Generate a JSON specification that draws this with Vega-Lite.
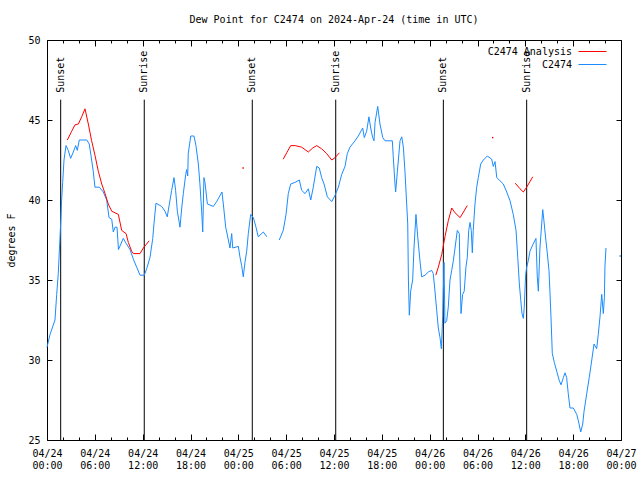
{
  "$schema": "https://vega.github.io/schema/vega-lite/v6.json",
  "width": 574,
  "height": 400,
  "autosize": {"type": "none"},
  "padding": {"left": 47, "top": 40, "right": 19, "bottom": 40},
  "background": "white",
  "title": {"text": "Dew Point for C2474 on 2024-Apr-24 (time in UTC)", "font": "DejaVu Sans Mono", "fontSize": 10, "fontWeight": "normal", "color": "black", "offset": 10, "anchor": "middle"},
  "config": {
    "view": {"stroke": "black", "strokeWidth": 1},
    "font": "DejaVu Sans Mono",
    "axis": {"labelFont": "DejaVu Sans Mono", "labelFontSize": 10, "labelColor": "black", "titleFont": "DejaVu Sans Mono", "titleFontSize": 10, "titleFontWeight": "normal", "titleColor": "black", "tickColor": "black", "tickWidth": 1, "domain": false, "grid": false}
  },
  "datasets": {
    "series": [
      {"t": "2024-04-24T00:00Z", "v": 30.8, "s": "C2474", "g": 1},
      {"t": "2024-04-24T00:23Z", "v": 31.6, "s": "C2474", "g": 1},
      {"t": "2024-04-24T01:00Z", "v": 32.5, "s": "C2474", "g": 1},
      {"t": "2024-04-24T01:13Z", "v": 34.1, "s": "C2474", "g": 1},
      {"t": "2024-04-24T01:25Z", "v": 35.4, "s": "C2474", "g": 1},
      {"t": "2024-04-24T01:38Z", "v": 37.7, "s": "C2474", "g": 1},
      {"t": "2024-04-24T01:45Z", "v": 38.9, "s": "C2474", "g": 1},
      {"t": "2024-04-24T01:50Z", "v": 40.0, "s": "C2474", "g": 1},
      {"t": "2024-04-24T01:58Z", "v": 41.1, "s": "C2474", "g": 1},
      {"t": "2024-04-24T02:08Z", "v": 42.5, "s": "C2474", "g": 1},
      {"t": "2024-04-24T02:23Z", "v": 43.4, "s": "C2474", "g": 1},
      {"t": "2024-04-24T02:40Z", "v": 43.1, "s": "C2474", "g": 1},
      {"t": "2024-04-24T02:58Z", "v": 42.6, "s": "C2474", "g": 1},
      {"t": "2024-04-24T03:18Z", "v": 43.0, "s": "C2474", "g": 1},
      {"t": "2024-04-24T03:36Z", "v": 43.4, "s": "C2474", "g": 1},
      {"t": "2024-04-24T03:48Z", "v": 43.1, "s": "C2474", "g": 1},
      {"t": "2024-04-24T04:03Z", "v": 43.75, "s": "C2474", "g": 1},
      {"t": "2024-04-24T04:59Z", "v": 43.75, "s": "C2474", "g": 1},
      {"t": "2024-04-24T05:18Z", "v": 43.5, "s": "C2474", "g": 1},
      {"t": "2024-04-24T05:36Z", "v": 42.5, "s": "C2474", "g": 1},
      {"t": "2024-04-24T05:48Z", "v": 41.8, "s": "C2474", "g": 1},
      {"t": "2024-04-24T06:01Z", "v": 40.8, "s": "C2474", "g": 1},
      {"t": "2024-04-24T06:34Z", "v": 40.8, "s": "C2474", "g": 1},
      {"t": "2024-04-24T07:04Z", "v": 40.5, "s": "C2474", "g": 1},
      {"t": "2024-04-24T07:29Z", "v": 40.0, "s": "C2474", "g": 1},
      {"t": "2024-04-24T07:47Z", "v": 38.9, "s": "C2474", "g": 1},
      {"t": "2024-04-24T08:07Z", "v": 38.8, "s": "C2474", "g": 1},
      {"t": "2024-04-24T08:19Z", "v": 38.0, "s": "C2474", "g": 1},
      {"t": "2024-04-24T08:32Z", "v": 38.3, "s": "C2474", "g": 1},
      {"t": "2024-04-24T08:47Z", "v": 38.3, "s": "C2474", "g": 1},
      {"t": "2024-04-24T08:58Z", "v": 36.9, "s": "C2474", "g": 1},
      {"t": "2024-04-24T09:34Z", "v": 37.6, "s": "C2474", "g": 1},
      {"t": "2024-04-24T09:55Z", "v": 37.3, "s": "C2474", "g": 1},
      {"t": "2024-04-24T10:25Z", "v": 36.9, "s": "C2474", "g": 1},
      {"t": "2024-04-24T10:50Z", "v": 36.3, "s": "C2474", "g": 1},
      {"t": "2024-04-24T11:15Z", "v": 35.8, "s": "C2474", "g": 1},
      {"t": "2024-04-24T11:40Z", "v": 35.3, "s": "C2474", "g": 1},
      {"t": "2024-04-24T12:12Z", "v": 35.3, "s": "C2474", "g": 1},
      {"t": "2024-04-24T12:30Z", "v": 35.7, "s": "C2474", "g": 1},
      {"t": "2024-04-24T12:55Z", "v": 36.4, "s": "C2474", "g": 1},
      {"t": "2024-04-24T13:16Z", "v": 37.6, "s": "C2474", "g": 1},
      {"t": "2024-04-24T13:25Z", "v": 38.5, "s": "C2474", "g": 1},
      {"t": "2024-04-24T13:40Z", "v": 39.8, "s": "C2474", "g": 1},
      {"t": "2024-04-24T14:23Z", "v": 39.6, "s": "C2474", "g": 1},
      {"t": "2024-04-24T14:48Z", "v": 39.3, "s": "C2474", "g": 1},
      {"t": "2024-04-24T15:05Z", "v": 38.95, "s": "C2474", "g": 1},
      {"t": "2024-04-24T15:26Z", "v": 40.0, "s": "C2474", "g": 1},
      {"t": "2024-04-24T15:38Z", "v": 40.6, "s": "C2474", "g": 1},
      {"t": "2024-04-24T15:56Z", "v": 41.4, "s": "C2474", "g": 1},
      {"t": "2024-04-24T16:08Z", "v": 40.6, "s": "C2474", "g": 1},
      {"t": "2024-04-24T16:21Z", "v": 39.3, "s": "C2474", "g": 1},
      {"t": "2024-04-24T16:41Z", "v": 38.3, "s": "C2474", "g": 1},
      {"t": "2024-04-24T16:54Z", "v": 39.5, "s": "C2474", "g": 1},
      {"t": "2024-04-24T17:06Z", "v": 40.4, "s": "C2474", "g": 1},
      {"t": "2024-04-24T17:24Z", "v": 41.6, "s": "C2474", "g": 1},
      {"t": "2024-04-24T17:31Z", "v": 41.9, "s": "C2474", "g": 1},
      {"t": "2024-04-24T17:39Z", "v": 41.5, "s": "C2474", "g": 1},
      {"t": "2024-04-24T17:43Z", "v": 42.9, "s": "C2474", "g": 1},
      {"t": "2024-04-24T18:02Z", "v": 44.0, "s": "C2474", "g": 1},
      {"t": "2024-04-24T18:26Z", "v": 44.0, "s": "C2474", "g": 1},
      {"t": "2024-04-24T18:41Z", "v": 43.4, "s": "C2474", "g": 1},
      {"t": "2024-04-24T18:59Z", "v": 42.25, "s": "C2474", "g": 1},
      {"t": "2024-04-24T19:11Z", "v": 41.0, "s": "C2474", "g": 1},
      {"t": "2024-04-24T19:24Z", "v": 39.3, "s": "C2474", "g": 1},
      {"t": "2024-04-24T19:32Z", "v": 38.0, "s": "C2474", "g": 1},
      {"t": "2024-04-24T19:41Z", "v": 41.4, "s": "C2474", "g": 1},
      {"t": "2024-04-24T19:49Z", "v": 41.1, "s": "C2474", "g": 1},
      {"t": "2024-04-24T20:07Z", "v": 39.75, "s": "C2474", "g": 1},
      {"t": "2024-04-24T20:52Z", "v": 39.6, "s": "C2474", "g": 1},
      {"t": "2024-04-24T21:17Z", "v": 39.9, "s": "C2474", "g": 1},
      {"t": "2024-04-24T21:57Z", "v": 40.5, "s": "C2474", "g": 1},
      {"t": "2024-04-24T22:07Z", "v": 39.75, "s": "C2474", "g": 1},
      {"t": "2024-04-24T22:25Z", "v": 38.3, "s": "C2474", "g": 1},
      {"t": "2024-04-24T22:45Z", "v": 37.5, "s": "C2474", "g": 1},
      {"t": "2024-04-24T22:57Z", "v": 37.0, "s": "C2474", "g": 1},
      {"t": "2024-04-24T23:10Z", "v": 37.9, "s": "C2474", "g": 1},
      {"t": "2024-04-24T23:18Z", "v": 37.0, "s": "C2474", "g": 1},
      {"t": "2024-04-25T00:00Z", "v": 37.1, "s": "C2474", "g": 1},
      {"t": "2024-04-25T00:13Z", "v": 36.4, "s": "C2474", "g": 1},
      {"t": "2024-04-25T00:25Z", "v": 35.9, "s": "C2474", "g": 1},
      {"t": "2024-04-25T00:37Z", "v": 35.2, "s": "C2474", "g": 1},
      {"t": "2024-04-25T00:50Z", "v": 36.1, "s": "C2474", "g": 1},
      {"t": "2024-04-25T01:03Z", "v": 36.8, "s": "C2474", "g": 1},
      {"t": "2024-04-25T01:15Z", "v": 37.9, "s": "C2474", "g": 1},
      {"t": "2024-04-25T01:33Z", "v": 39.1, "s": "C2474", "g": 1},
      {"t": "2024-04-25T01:53Z", "v": 38.9, "s": "C2474", "g": 1},
      {"t": "2024-04-25T02:13Z", "v": 38.3, "s": "C2474", "g": 1},
      {"t": "2024-04-25T02:30Z", "v": 37.7, "s": "C2474", "g": 1},
      {"t": "2024-04-25T03:08Z", "v": 38.0, "s": "C2474", "g": 1},
      {"t": "2024-04-25T03:34Z", "v": 37.7, "s": "C2474", "g": 1},
      {"t": "2024-04-25T05:08Z", "v": 37.5, "s": "C2474", "g": 2},
      {"t": "2024-04-25T05:38Z", "v": 38.1, "s": "C2474", "g": 2},
      {"t": "2024-04-25T05:59Z", "v": 39.1, "s": "C2474", "g": 2},
      {"t": "2024-04-25T06:16Z", "v": 40.4, "s": "C2474", "g": 2},
      {"t": "2024-04-25T06:34Z", "v": 41.0, "s": "C2474", "g": 2},
      {"t": "2024-04-25T07:07Z", "v": 41.1, "s": "C2474", "g": 2},
      {"t": "2024-04-25T07:39Z", "v": 41.25, "s": "C2474", "g": 2},
      {"t": "2024-04-25T07:57Z", "v": 40.6, "s": "C2474", "g": 2},
      {"t": "2024-04-25T08:22Z", "v": 40.4, "s": "C2474", "g": 2},
      {"t": "2024-04-25T08:47Z", "v": 40.7, "s": "C2474", "g": 2},
      {"t": "2024-04-25T09:05Z", "v": 40.0, "s": "C2474", "g": 2},
      {"t": "2024-04-25T09:24Z", "v": 40.8, "s": "C2474", "g": 2},
      {"t": "2024-04-25T09:50Z", "v": 42.1, "s": "C2474", "g": 2},
      {"t": "2024-04-25T10:09Z", "v": 42.0, "s": "C2474", "g": 2},
      {"t": "2024-04-25T10:27Z", "v": 41.4, "s": "C2474", "g": 2},
      {"t": "2024-04-25T10:45Z", "v": 41.0, "s": "C2474", "g": 2},
      {"t": "2024-04-25T11:10Z", "v": 40.2, "s": "C2474", "g": 2},
      {"t": "2024-04-25T11:43Z", "v": 39.9, "s": "C2474", "g": 2},
      {"t": "2024-04-25T12:08Z", "v": 40.3, "s": "C2474", "g": 2},
      {"t": "2024-04-25T12:33Z", "v": 40.8, "s": "C2474", "g": 2},
      {"t": "2024-04-25T12:58Z", "v": 41.6, "s": "C2474", "g": 2},
      {"t": "2024-04-25T13:23Z", "v": 42.1, "s": "C2474", "g": 2},
      {"t": "2024-04-25T13:40Z", "v": 42.9, "s": "C2474", "g": 2},
      {"t": "2024-04-25T14:00Z", "v": 43.3, "s": "C2474", "g": 2},
      {"t": "2024-04-25T14:38Z", "v": 43.7, "s": "C2474", "g": 2},
      {"t": "2024-04-25T15:03Z", "v": 44.0, "s": "C2474", "g": 2},
      {"t": "2024-04-25T15:36Z", "v": 44.5, "s": "C2474", "g": 2},
      {"t": "2024-04-25T15:48Z", "v": 43.9, "s": "C2474", "g": 2},
      {"t": "2024-04-25T16:06Z", "v": 44.3, "s": "C2474", "g": 2},
      {"t": "2024-04-25T16:23Z", "v": 45.2, "s": "C2474", "g": 2},
      {"t": "2024-04-25T16:36Z", "v": 44.5, "s": "C2474", "g": 2},
      {"t": "2024-04-25T16:51Z", "v": 43.9, "s": "C2474", "g": 2},
      {"t": "2024-04-25T17:01Z", "v": 43.7, "s": "C2474", "g": 2},
      {"t": "2024-04-25T17:09Z", "v": 44.85, "s": "C2474", "g": 2},
      {"t": "2024-04-25T17:29Z", "v": 45.85, "s": "C2474", "g": 2},
      {"t": "2024-04-25T17:46Z", "v": 44.75, "s": "C2474", "g": 2},
      {"t": "2024-04-25T18:07Z", "v": 43.9, "s": "C2474", "g": 2},
      {"t": "2024-04-25T18:24Z", "v": 43.7, "s": "C2474", "g": 2},
      {"t": "2024-04-25T19:19Z", "v": 43.7, "s": "C2474", "g": 2},
      {"t": "2024-04-25T19:26Z", "v": 42.7, "s": "C2474", "g": 2},
      {"t": "2024-04-25T19:39Z", "v": 41.0, "s": "C2474", "g": 2},
      {"t": "2024-04-25T19:44Z", "v": 40.5, "s": "C2474", "g": 2},
      {"t": "2024-04-25T19:57Z", "v": 41.8, "s": "C2474", "g": 2},
      {"t": "2024-04-25T20:17Z", "v": 43.7, "s": "C2474", "g": 2},
      {"t": "2024-04-25T20:30Z", "v": 43.95, "s": "C2474", "g": 2},
      {"t": "2024-04-25T20:42Z", "v": 43.3, "s": "C2474", "g": 2},
      {"t": "2024-04-25T20:54Z", "v": 41.8, "s": "C2474", "g": 2},
      {"t": "2024-04-25T21:07Z", "v": 39.75, "s": "C2474", "g": 2},
      {"t": "2024-04-25T21:15Z", "v": 38.5, "s": "C2474", "g": 2},
      {"t": "2024-04-25T21:20Z", "v": 35.0, "s": "C2474", "g": 2},
      {"t": "2024-04-25T21:27Z", "v": 32.8, "s": "C2474", "g": 2},
      {"t": "2024-04-25T21:37Z", "v": 34.3, "s": "C2474", "g": 2},
      {"t": "2024-04-25T21:52Z", "v": 35.0, "s": "C2474", "g": 2},
      {"t": "2024-04-25T22:02Z", "v": 37.0, "s": "C2474", "g": 2},
      {"t": "2024-04-25T22:17Z", "v": 39.1, "s": "C2474", "g": 2},
      {"t": "2024-04-25T22:30Z", "v": 37.7, "s": "C2474", "g": 2},
      {"t": "2024-04-25T22:47Z", "v": 36.2, "s": "C2474", "g": 2},
      {"t": "2024-04-25T23:00Z", "v": 35.2, "s": "C2474", "g": 2},
      {"t": "2024-04-25T23:25Z", "v": 35.3, "s": "C2474", "g": 2},
      {"t": "2024-04-25T23:50Z", "v": 35.5, "s": "C2474", "g": 2},
      {"t": "2024-04-26T00:15Z", "v": 35.6, "s": "C2474", "g": 2},
      {"t": "2024-04-26T00:27Z", "v": 35.4, "s": "C2474", "g": 2},
      {"t": "2024-04-26T00:40Z", "v": 34.3, "s": "C2474", "g": 2},
      {"t": "2024-04-26T00:53Z", "v": 33.1, "s": "C2474", "g": 2},
      {"t": "2024-04-26T01:05Z", "v": 32.0, "s": "C2474", "g": 2},
      {"t": "2024-04-26T01:18Z", "v": 31.4, "s": "C2474", "g": 2},
      {"t": "2024-04-26T01:28Z", "v": 30.7, "s": "C2474", "g": 2},
      {"t": "2024-04-26T01:38Z", "v": 32.7, "s": "C2474", "g": 2},
      {"t": "2024-04-26T01:48Z", "v": 36.1, "s": "C2474", "g": 2},
      {"t": "2024-04-26T01:55Z", "v": 32.3, "s": "C2474", "g": 2},
      {"t": "2024-04-26T02:08Z", "v": 32.45, "s": "C2474", "g": 2},
      {"t": "2024-04-26T02:20Z", "v": 33.3, "s": "C2474", "g": 2},
      {"t": "2024-04-26T02:33Z", "v": 35.0, "s": "C2474", "g": 2},
      {"t": "2024-04-26T02:46Z", "v": 35.6, "s": "C2474", "g": 2},
      {"t": "2024-04-26T02:58Z", "v": 36.2, "s": "C2474", "g": 2},
      {"t": "2024-04-26T03:11Z", "v": 37.0, "s": "C2474", "g": 2},
      {"t": "2024-04-26T03:28Z", "v": 38.1, "s": "C2474", "g": 2},
      {"t": "2024-04-26T03:43Z", "v": 37.9, "s": "C2474", "g": 2},
      {"t": "2024-04-26T03:49Z", "v": 35.2, "s": "C2474", "g": 2},
      {"t": "2024-04-26T03:56Z", "v": 32.9, "s": "C2474", "g": 2},
      {"t": "2024-04-26T04:08Z", "v": 34.1, "s": "C2474", "g": 2},
      {"t": "2024-04-26T04:20Z", "v": 34.3, "s": "C2474", "g": 2},
      {"t": "2024-04-26T04:33Z", "v": 35.8, "s": "C2474", "g": 2},
      {"t": "2024-04-26T04:43Z", "v": 36.4, "s": "C2474", "g": 2},
      {"t": "2024-04-26T04:54Z", "v": 38.1, "s": "C2474", "g": 2},
      {"t": "2024-04-26T05:04Z", "v": 38.6, "s": "C2474", "g": 2},
      {"t": "2024-04-26T05:13Z", "v": 38.1, "s": "C2474", "g": 2},
      {"t": "2024-04-26T05:21Z", "v": 36.7, "s": "C2474", "g": 2},
      {"t": "2024-04-26T05:28Z", "v": 38.1, "s": "C2474", "g": 2},
      {"t": "2024-04-26T05:41Z", "v": 39.75, "s": "C2474", "g": 2},
      {"t": "2024-04-26T05:54Z", "v": 40.8, "s": "C2474", "g": 2},
      {"t": "2024-04-26T06:06Z", "v": 41.4, "s": "C2474", "g": 2},
      {"t": "2024-04-26T06:24Z", "v": 42.25, "s": "C2474", "g": 2},
      {"t": "2024-04-26T06:44Z", "v": 42.5, "s": "C2474", "g": 2},
      {"t": "2024-04-26T07:14Z", "v": 42.75, "s": "C2474", "g": 2},
      {"t": "2024-04-26T07:47Z", "v": 42.55, "s": "C2474", "g": 2},
      {"t": "2024-04-26T07:59Z", "v": 42.1, "s": "C2474", "g": 2},
      {"t": "2024-04-26T08:12Z", "v": 42.4, "s": "C2474", "g": 2},
      {"t": "2024-04-26T08:25Z", "v": 41.4, "s": "C2474", "g": 2},
      {"t": "2024-04-26T08:49Z", "v": 41.2, "s": "C2474", "g": 2},
      {"t": "2024-04-26T09:14Z", "v": 41.0, "s": "C2474", "g": 2},
      {"t": "2024-04-26T09:40Z", "v": 40.5, "s": "C2474", "g": 2},
      {"t": "2024-04-26T10:05Z", "v": 39.95, "s": "C2474", "g": 2},
      {"t": "2024-04-26T10:29Z", "v": 39.1, "s": "C2474", "g": 2},
      {"t": "2024-04-26T10:50Z", "v": 38.1, "s": "C2474", "g": 2},
      {"t": "2024-04-26T11:03Z", "v": 36.4, "s": "C2474", "g": 2},
      {"t": "2024-04-26T11:15Z", "v": 34.75, "s": "C2474", "g": 2},
      {"t": "2024-04-26T11:25Z", "v": 33.8, "s": "C2474", "g": 2},
      {"t": "2024-04-26T11:35Z", "v": 32.9, "s": "C2474", "g": 2},
      {"t": "2024-04-26T11:45Z", "v": 32.6, "s": "C2474", "g": 2},
      {"t": "2024-04-26T11:52Z", "v": 33.3, "s": "C2474", "g": 2},
      {"t": "2024-04-26T11:58Z", "v": 34.5, "s": "C2474", "g": 2},
      {"t": "2024-04-26T12:03Z", "v": 35.4, "s": "C2474", "g": 2},
      {"t": "2024-04-26T12:10Z", "v": 35.8, "s": "C2474", "g": 2},
      {"t": "2024-04-26T12:22Z", "v": 36.2, "s": "C2474", "g": 2},
      {"t": "2024-04-26T12:35Z", "v": 36.8, "s": "C2474", "g": 2},
      {"t": "2024-04-26T12:56Z", "v": 37.2, "s": "C2474", "g": 2},
      {"t": "2024-04-26T13:20Z", "v": 37.6, "s": "C2474", "g": 2},
      {"t": "2024-04-26T13:30Z", "v": 35.2, "s": "C2474", "g": 2},
      {"t": "2024-04-26T13:38Z", "v": 34.3, "s": "C2474", "g": 2},
      {"t": "2024-04-26T13:50Z", "v": 37.0, "s": "C2474", "g": 2},
      {"t": "2024-04-26T14:03Z", "v": 38.5, "s": "C2474", "g": 2},
      {"t": "2024-04-26T14:11Z", "v": 39.4, "s": "C2474", "g": 2},
      {"t": "2024-04-26T14:20Z", "v": 38.7, "s": "C2474", "g": 2},
      {"t": "2024-04-26T14:35Z", "v": 37.45, "s": "C2474", "g": 2},
      {"t": "2024-04-26T14:45Z", "v": 36.7, "s": "C2474", "g": 2},
      {"t": "2024-04-26T14:58Z", "v": 35.6, "s": "C2474", "g": 2},
      {"t": "2024-04-26T15:05Z", "v": 34.3, "s": "C2474", "g": 2},
      {"t": "2024-04-26T15:13Z", "v": 32.7, "s": "C2474", "g": 2},
      {"t": "2024-04-26T15:23Z", "v": 30.4, "s": "C2474", "g": 2},
      {"t": "2024-04-26T15:38Z", "v": 29.85, "s": "C2474", "g": 2},
      {"t": "2024-04-26T15:56Z", "v": 29.3, "s": "C2474", "g": 2},
      {"t": "2024-04-26T16:16Z", "v": 28.7, "s": "C2474", "g": 2},
      {"t": "2024-04-26T16:29Z", "v": 28.45, "s": "C2474", "g": 2},
      {"t": "2024-04-26T16:46Z", "v": 28.9, "s": "C2474", "g": 2},
      {"t": "2024-04-26T16:59Z", "v": 29.2, "s": "C2474", "g": 2},
      {"t": "2024-04-26T17:11Z", "v": 28.9, "s": "C2474", "g": 2},
      {"t": "2024-04-26T17:23Z", "v": 27.9, "s": "C2474", "g": 2},
      {"t": "2024-04-26T17:36Z", "v": 27.0, "s": "C2474", "g": 2},
      {"t": "2024-04-26T18:01Z", "v": 27.0, "s": "C2474", "g": 2},
      {"t": "2024-04-26T18:27Z", "v": 26.6, "s": "C2474", "g": 2},
      {"t": "2024-04-26T18:39Z", "v": 26.2, "s": "C2474", "g": 2},
      {"t": "2024-04-26T18:57Z", "v": 25.5, "s": "C2474", "g": 2},
      {"t": "2024-04-26T19:12Z", "v": 26.0, "s": "C2474", "g": 2},
      {"t": "2024-04-26T19:22Z", "v": 26.8, "s": "C2474", "g": 2},
      {"t": "2024-04-26T19:42Z", "v": 27.9, "s": "C2474", "g": 2},
      {"t": "2024-04-26T20:01Z", "v": 28.9, "s": "C2474", "g": 2},
      {"t": "2024-04-26T20:20Z", "v": 30.0, "s": "C2474", "g": 2},
      {"t": "2024-04-26T20:37Z", "v": 31.0, "s": "C2474", "g": 2},
      {"t": "2024-04-26T20:57Z", "v": 30.7, "s": "C2474", "g": 2},
      {"t": "2024-04-26T21:09Z", "v": 31.6, "s": "C2474", "g": 2},
      {"t": "2024-04-26T21:22Z", "v": 32.7, "s": "C2474", "g": 2},
      {"t": "2024-04-26T21:35Z", "v": 34.1, "s": "C2474", "g": 2},
      {"t": "2024-04-26T21:47Z", "v": 32.9, "s": "C2474", "g": 2},
      {"t": "2024-04-26T21:55Z", "v": 33.9, "s": "C2474", "g": 2},
      {"t": "2024-04-26T21:59Z", "v": 35.8, "s": "C2474", "g": 2},
      {"t": "2024-04-26T22:07Z", "v": 37.0, "s": "C2474", "g": 2},
      {"t": "2024-04-24T02:33Z", "v": 43.75, "s": "C2474 Analysis", "g": 3},
      {"t": "2024-04-24T03:06Z", "v": 44.3, "s": "C2474 Analysis", "g": 3},
      {"t": "2024-04-24T03:31Z", "v": 44.7, "s": "C2474 Analysis", "g": 3},
      {"t": "2024-04-24T03:56Z", "v": 44.75, "s": "C2474 Analysis", "g": 3},
      {"t": "2024-04-24T04:21Z", "v": 45.2, "s": "C2474 Analysis", "g": 3},
      {"t": "2024-04-24T04:46Z", "v": 45.7, "s": "C2474 Analysis", "g": 3},
      {"t": "2024-04-24T05:11Z", "v": 44.75, "s": "C2474 Analysis", "g": 3},
      {"t": "2024-04-24T05:36Z", "v": 43.7, "s": "C2474 Analysis", "g": 3},
      {"t": "2024-04-24T06:01Z", "v": 42.8, "s": "C2474 Analysis", "g": 3},
      {"t": "2024-04-24T06:26Z", "v": 41.8, "s": "C2474 Analysis", "g": 3},
      {"t": "2024-04-24T06:52Z", "v": 41.0, "s": "C2474 Analysis", "g": 3},
      {"t": "2024-04-24T07:17Z", "v": 40.4, "s": "C2474 Analysis", "g": 3},
      {"t": "2024-04-24T07:41Z", "v": 39.75, "s": "C2474 Analysis", "g": 3},
      {"t": "2024-04-24T08:07Z", "v": 39.3, "s": "C2474 Analysis", "g": 3},
      {"t": "2024-04-24T08:32Z", "v": 39.2, "s": "C2474 Analysis", "g": 3},
      {"t": "2024-04-24T08:57Z", "v": 39.1, "s": "C2474 Analysis", "g": 3},
      {"t": "2024-04-24T09:22Z", "v": 38.1, "s": "C2474 Analysis", "g": 3},
      {"t": "2024-04-24T09:55Z", "v": 37.9, "s": "C2474 Analysis", "g": 3},
      {"t": "2024-04-24T10:12Z", "v": 37.35, "s": "C2474 Analysis", "g": 3},
      {"t": "2024-04-24T10:37Z", "v": 36.8, "s": "C2474 Analysis", "g": 3},
      {"t": "2024-04-24T10:50Z", "v": 36.65, "s": "C2474 Analysis", "g": 3},
      {"t": "2024-04-24T11:40Z", "v": 36.65, "s": "C2474 Analysis", "g": 3},
      {"t": "2024-04-24T12:05Z", "v": 37.0, "s": "C2474 Analysis", "g": 3},
      {"t": "2024-04-24T12:25Z", "v": 37.2, "s": "C2474 Analysis", "g": 3},
      {"t": "2024-04-24T12:48Z", "v": 37.45, "s": "C2474 Analysis", "g": 3},
      {"t": "2024-04-25T05:38Z", "v": 42.55, "s": "C2474 Analysis", "g": 4},
      {"t": "2024-04-25T06:04Z", "v": 42.95, "s": "C2474 Analysis", "g": 4},
      {"t": "2024-04-25T06:34Z", "v": 43.4, "s": "C2474 Analysis", "g": 4},
      {"t": "2024-04-25T07:07Z", "v": 43.4, "s": "C2474 Analysis", "g": 4},
      {"t": "2024-04-25T07:57Z", "v": 43.3, "s": "C2474 Analysis", "g": 4},
      {"t": "2024-04-25T08:47Z", "v": 43.0, "s": "C2474 Analysis", "g": 4},
      {"t": "2024-04-25T09:20Z", "v": 43.25, "s": "C2474 Analysis", "g": 4},
      {"t": "2024-04-25T09:50Z", "v": 43.4, "s": "C2474 Analysis", "g": 4},
      {"t": "2024-04-25T10:27Z", "v": 43.2, "s": "C2474 Analysis", "g": 4},
      {"t": "2024-04-25T11:05Z", "v": 42.9, "s": "C2474 Analysis", "g": 4},
      {"t": "2024-04-25T11:43Z", "v": 42.5, "s": "C2474 Analysis", "g": 4},
      {"t": "2024-04-25T12:08Z", "v": 42.65, "s": "C2474 Analysis", "g": 4},
      {"t": "2024-04-25T12:40Z", "v": 42.95, "s": "C2474 Analysis", "g": 4},
      {"t": "2024-04-26T00:46Z", "v": 35.3, "s": "C2474 Analysis", "g": 5},
      {"t": "2024-04-26T01:05Z", "v": 35.8, "s": "C2474 Analysis", "g": 5},
      {"t": "2024-04-26T01:31Z", "v": 36.6, "s": "C2474 Analysis", "g": 5},
      {"t": "2024-04-26T01:55Z", "v": 37.7, "s": "C2474 Analysis", "g": 5},
      {"t": "2024-04-26T02:20Z", "v": 38.7, "s": "C2474 Analysis", "g": 5},
      {"t": "2024-04-26T02:46Z", "v": 39.5, "s": "C2474 Analysis", "g": 5},
      {"t": "2024-04-26T03:11Z", "v": 39.2, "s": "C2474 Analysis", "g": 5},
      {"t": "2024-04-26T03:49Z", "v": 38.9, "s": "C2474 Analysis", "g": 5},
      {"t": "2024-04-26T04:43Z", "v": 39.65, "s": "C2474 Analysis", "g": 5},
      {"t": "2024-04-26T10:44Z", "v": 41.05, "s": "C2474 Analysis", "g": 6},
      {"t": "2024-04-26T11:20Z", "v": 40.7, "s": "C2474 Analysis", "g": 6},
      {"t": "2024-04-26T11:45Z", "v": 40.5, "s": "C2474 Analysis", "g": 6},
      {"t": "2024-04-26T12:10Z", "v": 40.8, "s": "C2474 Analysis", "g": 6},
      {"t": "2024-04-26T12:56Z", "v": 41.45, "s": "C2474 Analysis", "g": 6}
    ],
    "dots": [
      {"t": "2024-04-25T00:36Z", "v": 42.0, "s": "C2474 Analysis"},
      {"t": "2024-04-26T07:54Z", "v": 43.9, "s": "C2474 Analysis"},
      {"t": "2024-04-26T23:54Z", "v": 36.5, "s": "C2474"}
    ],
    "sun": [
      {"t": "2024-04-24T01:43Z", "event": "Sunset"},
      {"t": "2024-04-24T12:12Z", "event": "Sunrise"},
      {"t": "2024-04-25T01:45Z", "event": "Sunset"},
      {"t": "2024-04-25T12:13Z", "event": "Sunrise"},
      {"t": "2024-04-26T01:43Z", "event": "Sunset"},
      {"t": "2024-04-26T12:10Z", "event": "Sunrise"}
    ]
  },
  "layer": [
    {
      "data": {"name": "sun"},
      "mark": {"type": "rule", "color": "black", "strokeWidth": 1},
      "encoding": {
        "x": {"field": "t", "type": "temporal", "scale": {"type": "utc", "domain": [1713916800000, 1714176000000], "nice": false},
          "axis": {"orient": "top", "labels": false, "title": null,
            "values": [1713916800000,1713924000000,1713931200000,1713938400000,1713945600000,1713952800000,1713960000000,1713967200000,1713974400000,1713981600000,1713988800000,1713996000000,1714003200000,1714010400000,1714017600000,1714024800000,1714032000000,1714039200000,1714046400000,1714053600000,1714060800000,1714068000000,1714075200000,1714082400000,1714089600000,1714096800000,1714104000000,1714111200000,1714118400000,1714125600000,1714132800000,1714140000000,1714147200000,1714154400000,1714161600000,1714168800000,1714176000000],
            "tickSize": {"condition": {"test": "utchours(datum.value) % 6 == 0", "value": -6}, "value": -3}}},
        "y": {"datum": 46.27, "type": "quantitative", "scale": {"domain": [25, 50], "nice": false, "zero": false},
          "axis": {"orient": "right", "labels": false, "title": null, "values": [25, 30, 35, 40, 45, 50], "tickSize": -5}},
        "y2": {"datum": 25}
      }
    },
    {
      "data": {"name": "sun"},
      "mark": {"type": "text", "angle": 270, "align": "left", "baseline": "middle", "font": "DejaVu Sans Mono", "fontSize": 10, "color": "black"},
      "encoding": {
        "x": {"field": "t", "type": "temporal", "axis": null},
        "y": {"datum": 46.7, "type": "quantitative", "axis": null},
        "text": {"field": "event"}
      }
    },
    {
      "data": {"name": "series"},
      "mark": {"type": "line", "strokeWidth": 1},
      "encoding": {
        "x": {"field": "t", "type": "temporal", "scale": {"type": "utc", "domain": [1713916800000, 1714176000000], "nice": false},
          "axis": {"orient": "bottom", "title": null,
            "values": [1713916800000,1713924000000,1713931200000,1713938400000,1713945600000,1713952800000,1713960000000,1713967200000,1713974400000,1713981600000,1713988800000,1713996000000,1714003200000,1714010400000,1714017600000,1714024800000,1714032000000,1714039200000,1714046400000,1714053600000,1714060800000,1714068000000,1714075200000,1714082400000,1714089600000,1714096800000,1714104000000,1714111200000,1714118400000,1714125600000,1714132800000,1714140000000,1714147200000,1714154400000,1714161600000,1714168800000,1714176000000],
            "labelExpr": "utchours(datum.value) % 6 == 0 ? [utcFormat(datum.value, '%m/%d'), utcFormat(datum.value, '%H:%M')] : ''",
            "labelOverlap": false, "labelFlush": false, "labelBound": false, "labelLineHeight": 12.5, "labelBaseline": "top", "labelPadding": 14,
            "tickSize": {"condition": {"test": "utchours(datum.value) % 6 == 0", "value": -6}, "value": -3}}},
        "y": {"field": "v", "type": "quantitative", "scale": {"domain": [25, 50], "nice": false, "zero": false},
          "axis": {"orient": "left", "title": "degrees F", "values": [25, 30, 35, 40, 45, 50], "tickSize": -5, "labelPadding": 12, "titlePadding": 11}},
        "color": {"field": "s", "type": "nominal",
          "scale": {"domain": ["C2474 Analysis", "C2474"], "range": ["#ff0000", "#1a8cff"]},
          "legend": {"orient": "top-right", "offset": 4, "title": null, "symbolType": "M-2,0L2,0M3.15,0", "symbolSize": 196, "symbolStrokeWidth": 1, "labelFont": "DejaVu Sans Mono", "labelFontSize": 10, "labelColor": "black", "labelAlign": "right", "labelOffset": -28, "rowPadding": -1, "padding": 0}},
        "detail": {"field": "g"}
      }
    },
    {
      "data": {"name": "dots"},
      "mark": {"type": "square", "size": 2, "opacity": 1},
      "encoding": {
        "x": {"field": "t", "type": "temporal", "axis": null},
        "y": {"field": "v", "type": "quantitative", "axis": null},
        "color": {"field": "s", "type": "nominal"}
      }
    }
  ],
  "resolve": {"axis": {"x": "independent", "y": "independent"}}
}
